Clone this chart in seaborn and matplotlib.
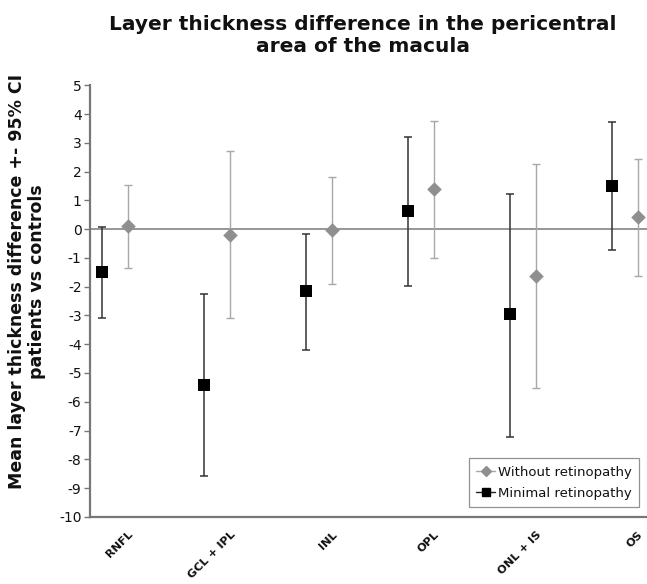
import numpy as np
import pandas as pd
import matplotlib
matplotlib.use("Agg")
import matplotlib.pyplot as plt
import seaborn as sns
from matplotlib.lines import Line2D

# layers on the x axis
layers = ["RNFL", "GCL + IPL", "INL", "OPL", "ONL + IS", "OS"]

# Without retinopathy (grey diamonds)
without_mean = [0.12, -0.21, -0.03, 1.41, -1.64, 0.41]
without_low = [-1.35, -3.10, -1.89, -1.00, -5.53, -1.64]
without_high = [1.54, 2.71, 1.82, 3.76, 2.26, 2.44]

# Minimal retinopathy (black squares)
minimal_mean = [-1.48, -5.42, -2.15, 0.63, -2.96, 1.50]
minimal_low = [-3.08, -8.58, -4.20, -1.99, -7.23, -0.73]
minimal_high = [0.08, -2.27, -0.17, 3.19, 1.23, 3.73]

yticks = list(range(-10, 6))

sns.set_theme(style="white")
plt.rcParams['font.family'] = ['DejaVu Sans']

fig = plt.figure(figsize=(6.47, 5.84), dpi=100)
ax = fig.add_axes([0.139, 0.115, 0.861, 0.739])

pos = np.arange(len(layers))
df = pd.DataFrame({
    "layer": layers,
    "pos": pos,
    "without_mean": without_mean,
    "without_low": without_low,
    "without_high": without_high,
    "minimal_mean": minimal_mean,
    "minimal_low": minimal_low,
    "minimal_high": minimal_high,
})

grey = "#8f8f8f"
grey_bar = "#a8a8a8"

# zero line
ax.axhline(0, color="#7a7a7a", lw=1.1, zorder=1)

# error bars
ax.errorbar(df["pos"] - 0.25, df["minimal_mean"],
            yerr=[df["minimal_mean"] - df["minimal_low"], df["minimal_high"] - df["minimal_mean"]],
            fmt="none", ecolor="#333333", elinewidth=1.1, capsize=3, capthick=1.1, zorder=2)
ax.errorbar(df["pos"], df["without_mean"],
            yerr=[df["without_mean"] - df["without_low"], df["without_high"] - df["without_mean"]],
            fmt="none", ecolor=grey_bar, elinewidth=1.0, capsize=3, capthick=1.0, zorder=2)

# markers
sns.scatterplot(x=df["pos"] - 0.25, y=df["minimal_mean"], marker="s", s=70,
                color="black", edgecolor="black", linewidth=0, ax=ax, zorder=3)
sns.scatterplot(x=df["pos"], y=df["without_mean"], marker="D", s=55,
                color=grey, edgecolor=grey, linewidth=0, ax=ax, zorder=3)

ax.set_xlim(-0.373, 5.09)
ax.set_ylim(-10, 5)
ax.set_yticks(yticks)
ax.set_yticklabels([str(t) for t in yticks], fontsize=10, color="#111111")
ax.set_xticks(pos)
ax.set_xticklabels(layers, rotation=45, ha="right", rotation_mode="anchor",
                   fontsize=8.2, fontweight="bold", color="#111111")
ax.tick_params(axis="y", which="major", left=True, length=4, width=1, color="#777777", pad=2)
ax.tick_params(axis="x", which="major", bottom=False, pad=3)
ax.set_xlabel("")
ax.set_ylabel("Mean layer thickness difference +- 95% CI\npatients vs controls",
              fontsize=12.5, fontweight="bold", color="#111111", linespacing=1.15)
ax.yaxis.set_label_coords(-0.078, 0.546)

sns.despine(ax=ax)
for side in ["left", "bottom"]:
    ax.spines[side].set_color("#777777")
    ax.spines[side].set_linewidth(1.6)

fig.suptitle("Layer thickness difference in the pericentral\narea of the macula",
             x=0.561, y=0.975, fontsize=14.5, fontweight="bold", color="#111111",
             linespacing=1.2)

handles = [
    Line2D([0], [0], color=grey_bar, lw=1, marker="D", markersize=5.5,
           markerfacecolor=grey, markeredgecolor=grey),
    Line2D([0], [0], color="#222222", lw=1, marker="s", markersize=6,
           markerfacecolor="black", markeredgecolor="black"),
]
leg = ax.legend(handles, ["Without retinopathy", "Minimal retinopathy"],
                loc="lower right", bbox_to_anchor=(0.986, 0.023), borderaxespad=0,
                fontsize=9.5, frameon=True, fancybox=False, edgecolor="#777777",
                handlelength=1.4, handletextpad=0.25, borderpad=0.55, labelspacing=0.6)
leg.get_frame().set_linewidth(0.9)
for t in leg.get_texts():
    t.set_color("#111111")

fig.savefig("out.png", dpi=100)
